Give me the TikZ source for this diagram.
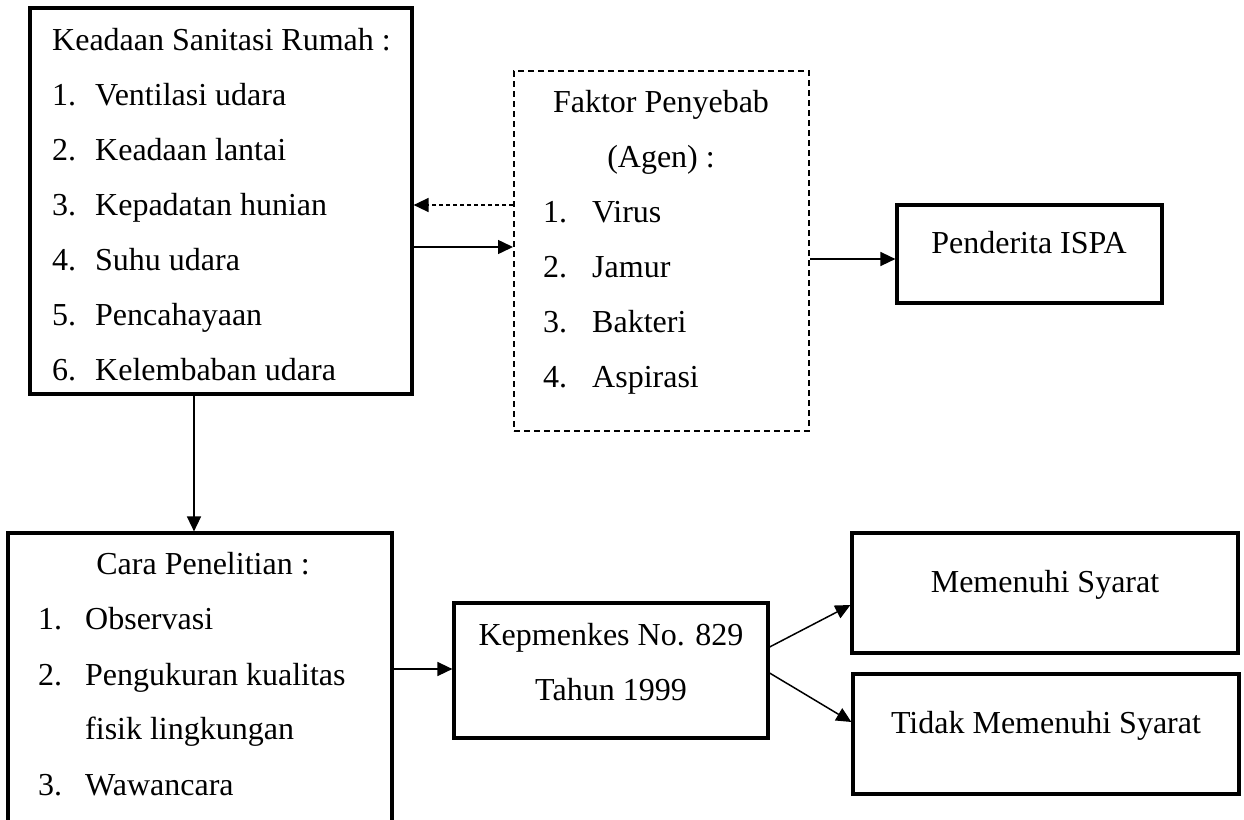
\documentclass[tikz,border=0pt]{standalone}
\usepackage{fontspec}
\setmainfont{Liberation Serif}
\usetikzlibrary{arrows.meta}
\begin{document}
\begin{tikzpicture}[x=1pt,y=-1pt,
  txt/.style={inner sep=0pt,font=\fontsize{32}{38}\selectfont},
  ltxt/.style={txt,anchor=base west},
  ctxt/.style={txt,anchor=base},
  solidbox/.style={draw,line width=3.2pt,inner sep=0pt},
  dashbox/.style={draw,line width=2pt,dash pattern=on 6pt off 4pt,inner sep=0pt},
  arr/.style={line width=1.5pt,-{Triangle[length=15pt,width=14pt]}},
  darr/.style={arr,dash pattern=on 4pt off 3pt}]
\useasboundingbox (0,0) rectangle (1244,819);
\fill[white] (0,0) rectangle (1244,819);
\clip (0,0) rectangle (1244,819);

% boxes
\node[solidbox,minimum width=382pt,minimum height=386pt] (b1) at (221,201) {};
\node[dashbox,minimum width=295pt,minimum height=360pt] (b2) at (661.5,251) {};
\node[solidbox,minimum width=265pt,minimum height=98pt] (b3) at (1029.5,254) {};
\node[solidbox,minimum width=384pt,minimum height=307pt] (b4) at (200,686.5) {};
\node[solidbox,minimum width=314pt,minimum height=135pt] (b5) at (611,670.5) {};
\node[solidbox,minimum width=386pt,minimum height=120pt] (b6) at (1045,593) {};
\node[solidbox,minimum width=386pt,minimum height=120pt] (b7) at (1046,734) {};

% box 1 text
\node[ltxt] (t1h) at (52,50) {Keadaan Sanitasi Rumah :};
\node[ltxt] (t1n1) at (52,105) {1.};
\node[ltxt] (t1i1) at (95,105) {Ventilasi udara};
\node[ltxt] (t1n2) at (52,160) {2.};
\node[ltxt] (t1i2) at (95,160) {Keadaan lantai};
\node[ltxt] (t1n3) at (52,215) {3.};
\node[ltxt] (t1i3) at (95,215) {Kepadatan hunian};
\node[ltxt] (t1n4) at (52,270) {4.};
\node[ltxt] (t1i4) at (95,270) {Suhu udara};
\node[ltxt] (t1n5) at (52,325) {5.};
\node[ltxt] (t1i5) at (95,325) {Pencahayaan};
\node[ltxt] (t1n6) at (52,380) {6.};
\node[ltxt] (t1i6) at (95,380) {Kelembaban udara};

% box 2 text
\node[ctxt] (t2h1) at (661,112) {Faktor Penyebab};
\node[ctxt] (t2h2) at (661,167) {(Agen) :};
\node[ltxt] (t2n1) at (543,222) {1.};
\node[ltxt] (t2i1) at (592,222) {Virus};
\node[ltxt] (t2n2) at (543,277) {2.};
\node[ltxt] (t2i2) at (592,277) {Jamur};
\node[ltxt] (t2n3) at (543,332) {3.};
\node[ltxt] (t2i3) at (592,332) {Bakteri};
\node[ltxt] (t2n4) at (543,387) {4.};
\node[ltxt] (t2i4) at (592,387) {Aspirasi};

% box 3 text
\node[ctxt] (t3) at (1029,253) {Penderita ISPA};

% box 4 text
\node[ctxt] (t4h) at (203,574) {Cara Penelitian :};
\node[ltxt] (t4n1) at (38,629) {1.};
\node[ltxt] (t4i1) at (85,629) {Observasi};
\node[ltxt] (t4n2) at (38,685) {2.};
\node[ltxt] (t4i2) at (85,685) {Pengukuran kualitas};
\node[ltxt] (t4i2b) at (85,739) {fisik lingkungan};
\node[ltxt] (t4n3) at (38,795) {3.};
\node[ltxt] (t4i3) at (85,795) {Wawancara};

% box 5 text
\node[ctxt] (t5a) at (611,645) {Kepmenkes No. 829};
\node[ctxt] (t5b) at (611,700) {Tahun 1999};

% box 6, 7 text
\node[ctxt] (t6) at (1045,592) {Memenuhi Syarat};
\node[ctxt] (t7) at (1046,733) {Tidak Memenuhi Syarat};

% connectors
\draw[darr] (b2.west |- 0,205) -- (b1.east |- 0,205);
\draw[arr] (b1.east |- 0,247) -- (b2.west |- 0,247);
\draw[arr] (b2.east |- 0,259) -- (b3.west |- 0,259);
\draw[arr] (b1.south -| 194,0) -- (b4.north -| 194,0);
\draw[arr] (b4.east |- 0,669) -- (b5.west |- 0,669);
\draw[arr] (b5.east |- 0,647) -- (b6.west |- 0,605);
\draw[arr] (b5.east |- 0,673) -- (b7.west |- 0,722);
\end{tikzpicture}
\end{document}
